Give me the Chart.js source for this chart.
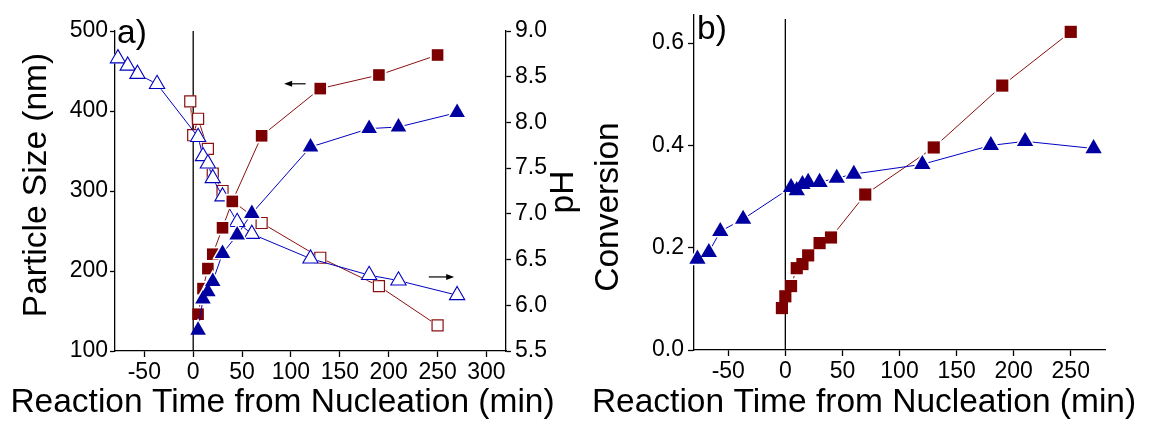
<!DOCTYPE html>
<html>
<head>
<meta charset="utf-8">
<script src="https://cdn.jsdelivr.net/npm/chart.js@4.4.1/dist/chart.umd.min.js"></script>
<style>
  html, body { margin: 0; padding: 0; background: #fff; }
  #wrap { position: relative; width: 1157px; height: 421px; overflow: hidden; background: #fff; }
  canvas { position: absolute; top: 0; }
  #ca { left: 0; }
  #cb { left: 585px; }
</style>
</head>
<body>
<div id="wrap">
  <canvas id="ca" width="585" height="421"></canvas>
  <canvas id="cb" width="572" height="421"></canvas>
</div>
<script>
// ---- Panel a: particle size (left axis) and pH (right axis) vs. time from nucleation ----
const sizeSqTime  = [5, 10, 15, 20, 30, 40, 70, 130, 190, 250];
const sizeSq      = [146, 178, 203, 221, 254, 287, 369, 428, 445, 470];
const sizeTriTime = [5, 10, 15, 20, 30, 45, 60, 120, 180, 210, 270];
const sizeTri     = [126, 165, 174, 187, 222, 245, 272, 355, 378, 380, 398];
const phSqTime    = [-3, 0, 5, 15, 20, 30, 40, 70, 130, 190, 250];
const phSq        = [8.23, 7.86, 8.04, 7.71, 7.44, 7.25, 7.14, 6.90, 6.52, 6.21, 5.78];
const phTriTime   = [-77, -67, -57, -37, 5, 10, 15, 20, 30, 45, 60, 120, 180, 210, 270];
const phTri       = [8.70, 8.62, 8.53, 8.42, 7.84, 7.63, 7.55, 7.39, 7.19, 6.91, 6.78, 6.51, 6.33, 6.27, 6.11];

// ---- Panel b: conversion vs. time from nucleation ----
const convSqTime  = [-3, 0, 5, 10, 15, 20, 30, 40, 70, 130, 190, 250];
const convSq      = [0.082, 0.105, 0.125, 0.160, 0.168, 0.185, 0.209, 0.220, 0.304, 0.396, 0.517, 0.622];
const convTriTime = [-77, -67, -57, -37, 5, 10, 15, 20, 30, 45, 60, 120, 180, 210, 270];
const convTri     = [0.178, 0.191, 0.232, 0.256, 0.318, 0.312, 0.324, 0.328, 0.328, 0.336, 0.344, 0.363, 0.400, 0.408, 0.394];

// ---- tick labels ----
const timeTicksA = [-50, 0, 50, 100, 150, 200, 250, 300];
const timeTicksB = [-50, 0, 50, 100, 150, 200, 250];
const sizeTicks  = [100, 200, 300, 400, 500];
const phTicks    = [5.5, 6.0, 6.5, 7.0, 7.5, 8.0, 8.5, 9.0];
const convTicks  = [0.0, 0.2, 0.4, 0.6];

const FONT = "'Liberation Sans', Arial, Helvetica, sans-serif";
const RED = '#7d0000';
const BLUE = '#0000a0';
const RED_LINE = '#8a1010';
const BLUE_LINE = '#0000c0';
const TITLE_SIZE = 33.5;
const TICK_SIZE = 23;

function xy(times, vals) {
  return times.map((t, i) => ({ x: t, y: vals[i] }));
}

// One plotted series = thin connecting line, a white gap around every symbol, then the symbols.
function series(times, vals, s, rank) {
  const pts = xy(times, vals);
  const base = rank * 3;
  const common = { data: pts, yAxisID: s.axis, clip: false };
  return [
    Object.assign({}, common, { showLine: true, borderColor: s.line, borderWidth: 1, pointRadius: 0, order: base + 2 }),
    Object.assign({}, common, { halo: true, showLine: false, pointStyle: s.style, pointRadius: s.r + s.gap,
      pointBackgroundColor: '#fff', pointBorderWidth: 0, order: base + 1 }),
    Object.assign({}, common, { showLine: false, pointStyle: s.style, pointRadius: s.r,
      pointBackgroundColor: s.fill, pointBorderColor: s.edge, pointBorderWidth: s.bw, order: base })
  ];
}

function fixedTicks(values) {
  return (scale) => { scale.ticks = values.map(v => ({ value: v })); };
}
function fitSize(prop, px) {
  return (scale) => {
    scale[prop] = px;
    scale.paddingTop = scale.paddingBottom = scale.paddingLeft = scale.paddingRight = 0;
  };
}

function axis(opts) {
  return {
    type: 'linear',
    position: opts.position,
    min: opts.min,
    max: opts.max,
    afterBuildTicks: fixedTicks(opts.ticks),
    afterFit: fitSize(opts.fitProp, opts.fitPx),
    grid: { display: true, drawOnChartArea: false, drawTicks: true, tickLength: opts.tickLength,
            tickColor: '#000', tickWidth: 1.3 },
    border: { display: true, color: '#000', width: 1.3 },
    ticks: {
      font: { family: FONT, size: TICK_SIZE, lineHeight: 1 },
      color: '#000',
      padding: opts.pad,
      maxRotation: 0,
      autoSkip: false,
      callback: opts.fmt
    },
    title: { display: false }
  };
}

function drawText(ctx, text, x, y, rot, align, baseline) {
  ctx.save();
  ctx.translate(x, y);
  ctx.rotate(rot);
  ctx.font = TITLE_SIZE + 'px ' + FONT;
  ctx.fillStyle = '#000';
  ctx.textAlign = align;
  ctx.textBaseline = baseline;
  ctx.fillText(text, 0, 0);
  ctx.restore();
}

function drawArrow(ctx, x0, x1, y) {
  const dir = Math.sign(x1 - x0);
  ctx.save();
  ctx.strokeStyle = '#000';
  ctx.fillStyle = '#000';
  ctx.lineWidth = 1.2;
  ctx.beginPath();
  ctx.moveTo(x0, y);
  ctx.lineTo(x1 - dir * 6, y);
  ctx.stroke();
  ctx.beginPath();
  ctx.moveTo(x1, y);
  ctx.lineTo(x1 - dir * 8, y - 3);
  ctx.lineTo(x1 - dir * 8, y + 3);
  ctx.closePath();
  ctx.fill();
  ctx.restore();
}

// Vertical marker at t = 0 (behind the data), panel letter, axis titles and axis-pointer arrows.
const decorations = {
  id: 'decorations',
  beforeDatasetsDraw(chart, args, o) {
    const ctx = chart.ctx;
    const x0 = chart.scales.x.getPixelForValue(0);
    const a = chart.chartArea;
    ctx.save();
    ctx.strokeStyle = '#000';
    ctx.lineWidth = 1.3;
    ctx.beginPath();
    ctx.moveTo(x0, a.top + o.zeroLineInset);
    ctx.lineTo(x0, a.bottom);
    ctx.stroke();
    ctx.restore();
  },
  // the white gaps around symbols only interrupt the connecting lines, not the t = 0 marker
  beforeDatasetDraw(chart, args) {
    if (!chart.data.datasets[args.index].halo) return;
    const ctx = chart.ctx;
    const x0 = chart.scales.x.getPixelForValue(0);
    ctx.save();
    ctx.beginPath();
    ctx.rect(0, 0, chart.width, chart.height);
    ctx.rect(x0 - 1.2, 0, 2.4, chart.height);
    ctx.clip('evenodd');
  },
  afterDatasetDraw(chart, args) {
    if (!chart.data.datasets[args.index].halo) return;
    chart.ctx.restore();
  },
  afterDraw(chart, args, o) {
    const ctx = chart.ctx;
    const a = chart.chartArea;
    drawText(ctx, o.letter, a.left + o.letterDx, o.letterY, 0, 'left', 'alphabetic');
    drawText(ctx, o.xTitle, o.xTitleX, o.xTitleY, 0, 'center', 'middle');
    o.yTitles.forEach(t => drawText(ctx, t.text, t.x, t.y, -Math.PI / 2, 'center', 'middle'));
    (o.arrows || []).forEach(ar => {
      const sc = chart.scales[ar.axis];
      const y = sc.getPixelForValue(ar.value);
      drawArrow(ctx, chart.scales.x.getPixelForValue(ar.from), chart.scales.x.getPixelForValue(ar.to), y);
    });
  }
};

const fmtInt = (v) => String(v);
const fmt1 = (v) => v.toFixed(1);

new Chart(document.getElementById('ca'), {
  type: 'scatter',
  data: {
    datasets: [
      ...series(phSqTime, phSq, { axis: 'y2', style: 'rect', r: 7.8, gap: 1.5, fill: '#fff', edge: RED_LINE, bw: 1.2, line: RED_LINE }, 3),
      ...series(phTriTime, phTri, { axis: 'y2', style: 'triangle', r: 8.8, gap: 1.5, fill: '#fff', edge: BLUE_LINE, bw: 1.1, line: BLUE_LINE }, 2),
      ...series(sizeSqTime, sizeSq, { axis: 'y', style: 'rect', r: 8.2, gap: 2.5, fill: RED, edge: RED, bw: 0, line: RED_LINE }, 1),
      ...series(sizeTriTime, sizeTri, { axis: 'y', style: 'triangle', r: 9.0, gap: 3, fill: BLUE, edge: BLUE, bw: 0, line: BLUE_LINE }, 0)
    ]
  },
  options: {
    responsive: false,
    animation: false,
    devicePixelRatio: 1,
    layout: { padding: { top: 31, left: 0, right: 0, bottom: 0 } },
    plugins: {
      legend: { display: false },
      tooltip: { enabled: false },
      decorations: {
        zeroLineInset: 0,
        letter: 'a)', letterDx: 2, letterY: 43,
        xTitle: 'Reaction Time from Nucleation (min)', xTitleX: 282.5, xTitleY: 403,
        yTitles: [
          { text: 'Particle Size (nm)', x: 37, y: 185 },
          { text: 'pH', x: 564, y: 192 }
        ],
        arrows: [
          { axis: 'y', value: 434, from: 115, to: 93 },
          { axis: 'y2', value: 6.31, from: 241, to: 267 }
        ]
      }
    },
    scales: {
      x: axis({ position: 'bottom', min: -80, max: 320, ticks: timeTicksA, fitProp: 'height', fitPx: 70, tickLength: 6, pad: 4, fmt: fmtInt }),
      y: axis({ position: 'left', min: 100, max: 500, ticks: sizeTicks, fitProp: 'width', fitPx: 115, tickLength: 5, pad: 2, fmt: fmtInt }),
      y2: axis({ position: 'right', min: 5.5, max: 9.0, ticks: phTicks, fitProp: 'width', fitPx: 79, tickLength: 5, pad: 4, fmt: fmt1 })
    }
  },
  plugins: [decorations]
});

new Chart(document.getElementById('cb'), {
  type: 'scatter',
  data: {
    datasets: [
      ...series(convSqTime, convSq, { axis: 'y', style: 'rect', r: 8.6, gap: 2.5, fill: RED, edge: RED, bw: 0, line: RED_LINE }, 1),
      ...series(convTriTime, convTri, { axis: 'y', style: 'triangle', r: 9.4, gap: 3, fill: BLUE, edge: BLUE, bw: 0, line: BLUE_LINE }, 0)
    ]
  },
  options: {
    responsive: false,
    animation: false,
    devicePixelRatio: 1,
    layout: { padding: { top: 15, left: 0, right: 52, bottom: 0 } },
    plugins: {
      legend: { display: false },
      tooltip: { enabled: false },
      decorations: {
        zeroLineInset: 4,
        letter: 'b)', letterDx: 3, letterY: 39,
        xTitle: 'Reaction Time from Nucleation (min)', xTitleX: 279, xTitleY: 403,
        yTitles: [
          { text: 'Conversion', x: 24, y: 207 }
        ]
      }
    },
    scales: {
      x: axis({ position: 'bottom', min: -80, max: 280, ticks: timeTicksB, fitProp: 'height', fitPx: 71, tickLength: 6, pad: 4, fmt: fmtInt }),
      y: axis({ position: 'left', min: 0, max: 0.655, ticks: convTicks, fitProp: 'width', fitPx: 109, tickLength: 6, pad: 4, fmt: fmt1 })
    }
  },
  plugins: [decorations]
});
</script>
</body>
</html>
